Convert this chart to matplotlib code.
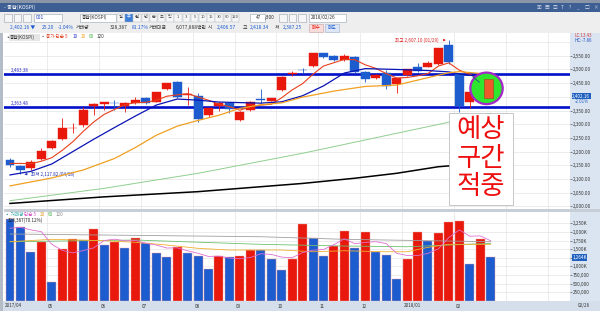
import matplotlib
matplotlib.use("Agg")
import matplotlib.pyplot as plt
import matplotlib.patches as mpatches
import pandas as pd

plt.rcParams['font.family'] = ['Noto Sans CJK KR', 'DejaVu Sans']

# weekly candles, 2017/04 .. 2018/02/26
opens = [2169, 2147, 2139, 2173, 2212, 2245, 2285, 2297, 2368, 2375, 2378, 2368, 2379, 2397, 2382, 2428,
         2453, 2408, 2404, 2334, 2367, 2379, 2316, 2352, 2391, 2386, 2425, 2483, 2499, 2513, 2559, 2550,
         2535, 2547, 2492, 2468, 2486, 2447, 2480, 2510, 2510, 2519, 2589, 2482, 2382, 2418, 2406.57]
highs = [2177, 2150, 2168, 2212, 2244, 2322, 2304, 2364, 2376, 2382, 2389, 2380, 2401, 2399, 2419, 2451,
         2458, 2437, 2413, 2360, 2381, 2381, 2348, 2384, 2428, 2397, 2476, 2494, 2504, 2561, 2561, 2553,
         2555, 2550, 2494, 2484, 2498, 2470, 2503, 2525, 2532, 2580, 2607.10, 2485, 2421, 2440, 2418.34]
lows = [2144, 2117.82, 2133, 2170, 2208, 2242, 2267, 2291, 2334, 2352, 2352, 2346, 2375, 2375, 2380, 2425,
        2395, 2370, 2309, 2328, 2350, 2340, 2313, 2350, 2377, 2384, 2423, 2476, 2488, 2510, 2542, 2532,
        2532, 2488, 2454, 2465, 2429, 2413, 2477, 2490, 2508, 2515, 2520, 2346, 2360, 2405, 2387.25]
closes = [2151, 2133, 2163, 2203, 2240, 2285, 2288, 2352, 2374, 2380, 2376, 2376, 2389, 2379, 2417, 2450,
          2401, 2411, 2318, 2358, 2379, 2355, 2346, 2382, 2387, 2395, 2474, 2488, 2497, 2559, 2544, 2535,
          2549, 2492, 2464, 2480, 2440, 2468, 2501, 2494, 2522, 2577, 2526, 2367, 2419, 2427.36, 2402.16]
volumes = [2374, 2151, 1426, 1699, 557, 1496, 1786, 1765, 2084, 1620, 1699, 1542, 1815, 1670, 1380, 1264,
           1571, 1380, 1310, 925, 1310, 1281, 1302, 1476, 1470, 1215, 896, 1206, 2229, 1815, 1310, 1600,
           2035, 1534, 2006, 1418, 1322, 626, 1215, 1989, 1745, 1977, 2279, 2308, 1070, 1794, 1264]  # K

# moving averages (first weeks lack history inside the window)
ma5_head = [2157, 2157, 2156, 2165]
ma10_idx = [0, 2, 4, 6, 8, 10, 12, 14, 16, 18, 20, 22, 24, 26, 28, 30, 32, 34, 37, 40, 42, 43, 46]
ma10_val = [2115, 2128, 2155, 2200, 2245, 2288, 2330, 2370, 2392, 2388, 2381, 2379, 2377, 2382, 2404,
            2440, 2487, 2503, 2500, 2496, 2491, 2483, 2470]
ma20_idx = [0, 4, 7, 10, 12, 14, 16, 18, 20, 22, 24, 26, 28, 31, 34, 37, 40, 42, 43, 46]
ma20_val = [2075, 2104, 2133, 2175, 2215, 2260, 2293, 2314, 2333, 2358, 2371, 2378, 2399, 2421, 2438,
            2443, 2470, 2488, 2492, 2482]
ma60_idx = [0, 9, 18, 28, 37, 46]
ma60_val = [2021, 2066, 2121, 2194, 2267, 2340]
ma120_idx = [0, 9, 18, 28, 33, 37, 41, 46]
ma120_val = [2011, 2035, 2054, 2084, 2103, 2121, 2145, 2160]

vma5_head = [2107, 2134, 2060, 2006]
vma20_idx = [0, 4, 9, 12, 15, 18, 21, 24, 26, 29, 32, 36, 38, 40, 42, 46]
vma20_val = [1716, 1786, 1745, 1699, 1621, 1525, 1476, 1476, 1476, 1426, 1455, 1426, 1426, 1554, 1641, 1641]
vma60_idx = [0, 12, 24, 32, 38, 46]
vma60_val = [1716, 1765, 1641, 1592, 1571, 1670]
vma120_idx = [0, 12, 24, 32, 46]
vma120_val = [1940, 1900, 1861, 1786, 1716]

support = 2363.48
resist = 2483.38

month_idx = [3.5, 8.5, 12.5, 17.5, 21.5, 25.5, 29.5, 33.5, 37.5, 42.5]
month_lbl = ['05', '06', '07', '08', '09', '10', '11', '12', '2018/01', '02']

RED = '#e8180c'
BLUE = '#1c5ccf'

W, H = 600, 311
fig = plt.figure(figsize=(W / 100, H / 100), dpi=100)
fig.patch.set_facecolor('white')


def box(x0, y0, x1, y1):
    return [x0 / W, 1 - y1 / H, (x1 - x0) / W, (y1 - y0) / H]


def T(x, y, s, **kw):
    kw.setdefault('fontsize', 3.6)
    kw.setdefault('va', 'center')
    fig.text(x / W, 1 - y / H, s, **kw)


def R(x0, y0, x1, y1, z=-1, **kw):
    fig.patches.append(mpatches.Rectangle((x0 / W, 1 - y1 / H), (x1 - x0) / W, (y1 - y0) / H,
                                          transform=fig.transFigure, zorder=z, **kw))


# window chrome
R(0, 0, 600, 3, color='#8a96a8', lw=0)
R(0, 3, 600, 12, color='#3d5f93', lw=0)
T(4, 7.5, '- 종합(KOSPI)', color='white', fontsize=3.8)
for k, s in enumerate(['▣', '▤', '▥', 'T', '?', '_', '□', '×']):
    T(537 + k * 8, 7.5, s, color='#d8e0ee', fontsize=3.4)
R(0, 12, 600, 33, color='#eeeeee', lw=0)
for k in range(3):
    R(4 + k * 9.5, 13.5, 11.5 + k * 9.5, 21.5, facecolor='#f6f6f6', edgecolor='#9aa4b0', lw=0.4)
R(34, 13.5, 62, 21.5, facecolor='white', edgecolor='#9aa4b0', lw=0.4)
T(36, 17.5, '001', color='#1c3fbf')
R(80, 13.5, 116, 21.5, facecolor='white', edgecolor='#9aa4b0', lw=0.4)
T(82, 17.5, '종합(KOSPI)', color='#333333', fontsize=3.4)
for k, s in enumerate(['일', '주', '월', '년', '분', '초', '틱', '1', '3', '5', '10', '15', '30', '60', '120']):
    fc = '#3d7fd8' if s == '주' else '#f6f6f6'
    R(117 + k * 8.2, 13.5, 124.5 + k * 8.2, 21.5, facecolor=fc, edgecolor='#a8b0bb', lw=0.3)
    T(120.8 + k * 8.2, 17.5, s, color='white' if s == '주' else '#444444', fontsize=3.0, ha='center')
R(250, 13.5, 265, 21.5, facecolor='white', edgecolor='#9aa4b0', lw=0.4)
T(256, 17.5, '47', color='#333333', fontsize=3.4)
T(265, 17.5, '/300', color='#333333', fontsize=3.4)
for k in range(3):
    R(279 + k * 9.5, 13.5, 286.5 + k * 9.5, 21.5, facecolor='#f6f6f6', edgecolor='#9aa4b0', lw=0.4)
R(309, 13.5, 346, 21.5, facecolor='white', edgecolor='#9aa4b0', lw=0.4)
T(311, 17.5, '2018/02/26', color='#333333', fontsize=3.4)

info = [(10, '2,402.16 ▼', BLUE), (42, '25.20', BLUE), (58, '-1.04%', BLUE), (76, '거래량', '#333333'),
        (110, '328,387', '#333333'), (132, '81.17%', BLUE), (149, '거래대금', '#333333'),
        (176, '6,077,888백만', '#333333'), (208, '시', '#333333'), (217, '2,406.57', BLUE),
        (243, '고', '#333333'), (250, '2,418.34', BLUE), (275, '저', '#333333'), (283, '2,387.25', BLUE)]
for px, s, c in info:
    T(px, 27.5, s, color=c, fontsize=3.5)
R(309, 24, 323, 31.5, facecolor='#f8dcdc', edgecolor='#c8a0a0', lw=0.4)
T(316, 27.7, '매수', color=RED, fontsize=3.4, ha='center')
R(325, 24, 339, 31.5, facecolor='#dce6f6', edgecolor='#a0b0c8', lw=0.4)
T(332, 27.7, '매도', color=BLUE, fontsize=3.4, ha='center')

# right axis strip and date strip
R(570, 33, 600, 311, color='#dbe5f1', lw=0)
R(0, 301, 600, 311, color='#d5dfeb', lw=0)
R(0, 33, 3, 311, color='#b4bcc8', lw=0)
R(4, 209, 600, 211.5, color='#c8ced6', lw=0)

# ---- price panel
x = list(range(len(closes)))
ax = fig.add_axes(box(4, 33, 570, 209))
ax.set_xlim(-0.574, 53.59)
ax.set_ylim(1990.7, 2633)
ax.set_facecolor('white')
for v in range(2000, 2601, 50):
    ax.axhline(v, color='#e4e4e4', lw=0.5, zorder=0)
for m in month_idx + [47.5, 51.5]:
    ax.axvline(m, color='#e4e4e4', lw=0.5, zorder=0)

ax.plot(ma120_idx, ma120_val, color='black', lw=1.1, zorder=2)
ax.plot(ma60_idx, ma60_val, color='#8fcf8f', lw=0.7, zorder=2)
ax.axhline(resist, color='#0010c8', lw=1.9, zorder=3)
ax.axhline(support, color='#0010c8', lw=1.9, zorder=3)

for i in x:
    c = RED if closes[i] >= opens[i] else BLUE
    ax.vlines(i, lows[i], highs[i], color=c, lw=0.6, zorder=4)
    body = abs(closes[i] - opens[i])
    ax.bar(i, max(body, 1.2), bottom=min(opens[i], closes[i]), width=0.86, color=c,
           edgecolor=c, lw=0.3, zorder=5)

ma5 = pd.Series(closes).rolling(5).mean()
ma5[:4] = ma5_head
ax.plot(x, ma5, color='#e8401c', lw=0.8, zorder=6)
ax.plot(ma10_idx, ma10_val, color='#0a14b4', lw=0.9, zorder=6)
ax.plot(ma20_idx, ma20_val, color='#f0a020', lw=0.9, zorder=6)

ax.text(0.1, resist + 3, '2,483.38', color='#3030c0', fontsize=3.3, va='bottom')
ax.text(0.1, support + 3, '2,363.48', color='#3030c0', fontsize=3.3, va='bottom')
ax.annotate('최저 2,117.82 (04/18)', xy=(1.4, lows[1]), xytext=(2.0, lows[1]), color='#2030b0',
            fontsize=3.3, va='center', arrowprops=dict(arrowstyle='-|>', color='#2030b0', lw=0.4))
ax.annotate('최고 2,607.10 (01/29)', xy=(41.7, highs[42]), xytext=(41.0, highs[42]), color='#e02020',
            fontsize=3.3, va='center', ha='right',
            arrowprops=dict(arrowstyle='-|>', color='#e02020', lw=0.4))

# hand-drawn prediction circle
ax.add_patch(mpatches.Ellipse((45.6, 2431), 3.1, 115, facecolor='#2ee62e', edgecolor='#a428c8',
                              lw=1.6, zorder=8))
ax.bar(45.8, 68, bottom=2397, width=0.8, color='#ee5a2a', edgecolor='#a04020', lw=0.4, zorder=9)
ax.plot([44.3, 44.9], [2473, 2454], color='#206080', lw=0.7, zorder=9)

ax.set_xticks([])
ax.yaxis.tick_right()
ticks = [v for v in range(2000, 2551, 50) if v != 2400]
ax.set_yticks(ticks)
ax.set_yticklabels(['{:,.2f}'.format(v) for v in ticks])
ax.tick_params(axis='y', length=1.5, width=0.4, pad=0.5, labelsize=3.3, colors='#333333')
for s in ax.spines.values():
    s.set_visible(False)

ax.text(1.004, (2402.16 - 1990.7) / (2633 - 1990.7), '2,402.16', transform=ax.transAxes,
        fontsize=3.3, color='white', va='center',
        bbox=dict(boxstyle='square,pad=0.15', fc='#1f5fc0', ec='none'))
ax.text(1.008, (2383 - 1990.7) / (2633 - 1990.7), '-2.01%', transform=ax.transAxes,
        fontsize=3.2, color='#1f5fc0', va='center')
ax.text(1.008, 0.985, 'LC:13.43', transform=ax.transAxes, fontsize=3.2, color='#d04040', va='center')
ax.text(1.008, 0.955, 'HC:-7.86', transform=ax.transAxes, fontsize=3.2, color='#2050c0', va='center')

# legend line
T(5, 37, '▪', color='#555555')
R(9, 33.5, 40, 40.5, z=1, facecolor='#e6e6e6', edgecolor='none')
T(10, 37, '종합(KOSPI)', color='#333333', fontsize=3.3)
T(40.5, 37, '▪', color='#555555', fontsize=3.0)
T(46, 37, '종가 단순 5', color='#e04020', fontsize=3.3)
T(73, 37, '10', color='#2030c0', fontsize=3.3)
T(81, 37, '20', color='#f0a020', fontsize=3.3)
T(89, 37, '60', color='#40b040', fontsize=3.3)
T(97, 37, '120', color='#333333', fontsize=3.3)

# prediction box text
R(449, 113, 513, 205, z=1, facecolor='white', edgecolor='#b0b0b0', lw=0.5)
for k, s in enumerate(['예상', '구간', '적중']):
    T(481, 129 + k * 29, s, color='#ee1010', fontsize=19, ha='center')

# ---- volume panel
vx = fig.add_axes(box(4, 212, 570, 301))
vx.set_xlim(-0.574, 53.59)
vx.set_ylim(0, 2577)
for v in range(250, 2251, 250):
    vx.axhline(v, color='#e4e4e4', lw=0.5, zorder=0)
for m in month_idx + [47.5, 51.5]:
    vx.axvline(m, color='#e4e4e4', lw=0.5, zorder=0)
vcol = [BLUE] + [RED if volumes[i] > volumes[i - 1] else BLUE for i in x[1:]]
vx.bar(x, volumes, width=0.86, color=vcol, edgecolor='#f0a0a0', lw=0.3, zorder=2)
vma5 = pd.Series(volumes).rolling(5).mean()
vma5[:4] = vma5_head
vx.plot(vma120_idx, vma120_val, color='#a0a0a0', lw=0.6, zorder=3)
vx.plot(vma60_idx, vma60_val, color='#70c070', lw=0.6, zorder=3)
vx.plot(vma20_idx, vma20_val, color='#f0b030', lw=0.6, zorder=3)
vx.plot(x, vma5, color='#e070d0', lw=0.6, zorder=3)
vx.set_xticks([])
vx.yaxis.tick_right()
vt = list(range(250, 2251, 250))
vx.set_yticks(vt)
vx.set_yticklabels(['{:,}K'.format(v) if v >= 1000 else '{:,}'.format(v * 1000) for v in vt])
vx.tick_params(axis='y', length=1.5, width=0.4, pad=0.5, labelsize=3.3, colors='#333333')
for s in vx.spines.values():
    s.set_visible(False)
vx.text(1.004, 1264 / 2577, '1,264K', transform=vx.transAxes, fontsize=3.3, color='white',
        va='center', bbox=dict(boxstyle='square,pad=0.15', fc='#1f5fc0', ec='none'))

T(5, 214.5, '▪ 거래량', color='#20a0a0', fontsize=3.3)
T(24, 214.5, '단순 5', color='#d050c0', fontsize=3.3)
T(40, 214.5, '20', color='#e0a020', fontsize=3.3)
T(48, 214.5, '60', color='#40b040', fontsize=3.3)
T(56, 214.5, '120', color='#888888', fontsize=3.3)
T(8, 220.5, '328,387(70.12%)', color='#222222', fontsize=3.3)

# month labels
T(5, 306, '2017/04', color='#333333', fontsize=3.3)
for m, s in zip(month_idx, month_lbl):
    T(10 + 10.45 * m + 1.5, 306, s, color='#333333', fontsize=3.3)
T(578, 306, '02/26', color='#333333', fontsize=3.3)

fig.savefig('out.png', dpi=100)
